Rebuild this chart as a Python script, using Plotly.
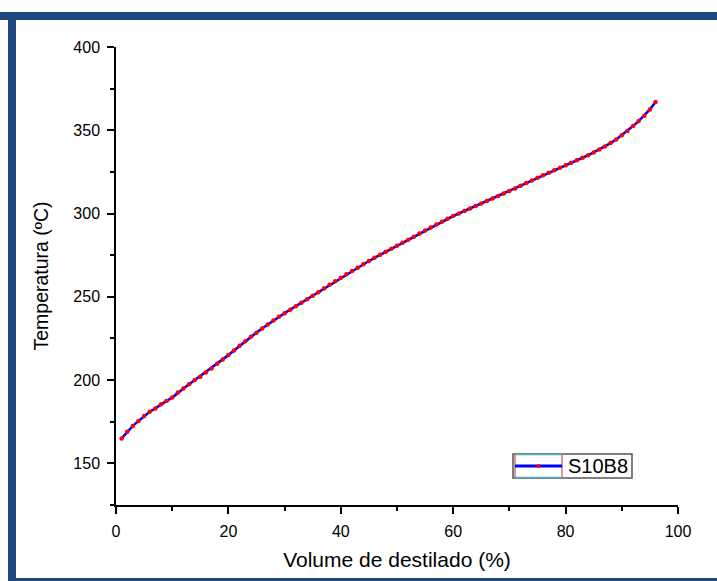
import plotly.graph_objects as go

# Distillation curve for sample S10B8: recovered volume (%) vs temperature (ºC)
volume = list(range(1, 97))
temperatura = [
    165.0, 169.0, 172.5, 175.5, 178.5, 181.0, 183.0, 185.5, 187.5, 189.5,
    192.5, 195.0, 197.5, 200.0, 202.0, 204.5, 207.0, 209.8, 212.4, 215.0,
    217.8, 220.6, 223.3, 226.0, 228.5, 231.0, 233.4, 235.8, 238.0, 240.2,
    242.3, 244.4, 246.5, 248.5, 250.6, 252.8, 255.0, 257.2, 259.4, 261.5,
    263.5, 265.5, 267.5, 269.5, 271.5, 273.4, 275.2, 277.0, 278.8, 280.6,
    282.4, 284.3, 286.1, 288.0, 289.8, 291.6, 293.4, 295.1, 296.9, 298.5,
    300.0, 301.5, 303.0, 304.5, 306.0, 307.5, 309.0, 310.5, 312.0, 313.5,
    315.0, 316.7, 318.3, 319.9, 321.5, 323.0, 324.5, 326.0, 327.5, 329.0,
    330.5, 332.0, 333.5, 335.0, 336.7, 338.5, 340.3, 342.3, 344.5, 347.0,
    349.5, 352.5, 355.5, 358.7, 362.5, 367.0,
]
serie = "S10B8"

x_ticks = [0, 20, 40, 60, 80, 100]
y_ticks = [150, 200, 250, 300, 350, 400]

W, H = 717, 581
ML, MR, MT, MB = 116, 39, 47, 76
pw, ph = W - ML - MR, H - MT - MB


def px(xp):
    return (xp - ML) / pw


def py(yp):
    return (H - MB - yp) / ph


FONT = "Liberation Sans, Arial, sans-serif"
FRAME = "#1F497D"
LINE_BLUE = "#0000FF"
DOT_RED = "#FF0000"

fig = go.Figure()
fig.add_trace(go.Scatter(
    x=volume, y=temperatura, name=serie, mode="lines+markers",
    line=dict(color=LINE_BLUE, width=2.6),
    marker=dict(color=DOT_RED, size=4.5, line=dict(width=0)),
    showlegend=False,
))

axis_common = dict(
    showgrid=False, zeroline=False, showline=True, linecolor="black",
    linewidth=1.5, ticks="outside", ticklen=7, tickwidth=1.5, tickcolor="black",
    tickfont=dict(family=FONT, size=16, color="black"),
    ticklabelstandoff=4,
    minor=dict(ticks="outside", ticklen=4, tickwidth=1.5, tickcolor="black"),
    mirror=False,
)

fig.update_xaxes(
    range=[0, 100], tickvals=x_ticks, minor_dtick=10,
    title=dict(text="Volume de destilado (%)", font=dict(family=FONT, size=21, color="black"), standoff=13),
    **axis_common,
)
fig.update_yaxes(
    range=[125, 400], tickvals=y_ticks, minor_dtick=25, minor_tick0=125,
    title=dict(text="Temperatura (ºC)", font=dict(family=FONT, size=19.5, color="black"), standoff=20),
    **axis_common,
)

shapes = []

# Blue page frame around the chart (top, left and bottom edges)
frame_rects = [
    (0, 12, W, 20),     # top bar
    (8, 12, 16, H),     # left bar
    (8, 578, W, H),     # bottom bar
]
for x0, y0, x1, y1 in frame_rects:
    shapes.append(dict(
        type="rect", xref="paper", yref="paper",
        x0=px(x0), x1=px(x1), y0=py(y1), y1=py(y0),
        fillcolor=FRAME, line=dict(width=0), layer="above",
    ))

# Legend box: sample cell on the left, name cell on the right
LX0, LX1, LXM, LY0, LY1 = 513, 632, 562, 454, 478
LYC = (LY0 + LY1) / 2
shapes += [
    dict(type="rect", xref="paper", yref="paper",
         x0=px(LX0), x1=px(LX1), y0=py(LY1), y1=py(LY0),
         fillcolor="white", line=dict(color="#555555", width=1.5)),
    dict(type="rect", xref="paper", yref="paper",
         x0=px(LX0 + 2), x1=px(LXM), y0=py(LY1 - 1), y1=py(LY0 + 1),
         fillcolor="white", line=dict(color="#55E8F0", width=1)),
    dict(type="line", xref="paper", yref="paper",
         x0=px(LX0 + 2), x1=px(LX0 + 2), y0=py(LY1 - 1), y1=py(LY0 + 1),
         line=dict(color="#FF4040", width=1)),
    dict(type="line", xref="paper", yref="paper",
         x0=px(LXM), x1=px(LXM), y0=py(LY1 - 1), y1=py(LY0 + 1),
         line=dict(color="#FF4040", width=1)),
    dict(type="line", xref="paper", yref="paper",
         x0=px(LX0 + 2), x1=px(LXM), y0=py(LYC), y1=py(LYC),
         line=dict(color=LINE_BLUE, width=3)),
    dict(type="circle", xref="paper", yref="paper",
         x0=px(536.5), x1=px(540.5), y0=py(LYC + 2), y1=py(LYC - 2),
         fillcolor=DOT_RED, line=dict(width=0)),
]

fig.update_layout(
    width=W, height=H,
    margin=dict(l=ML, r=MR, t=MT, b=MB),
    paper_bgcolor="white", plot_bgcolor="white",
    showlegend=False,
    shapes=shapes,
    annotations=[dict(
        text=serie, xref="paper", yref="paper",
        x=px(LXM + 4), y=py(LYC), xanchor="left", yanchor="middle",
        showarrow=False, font=dict(family=FONT, size=20, color="black"),
    )],
)

fig.write_html("out.html")
